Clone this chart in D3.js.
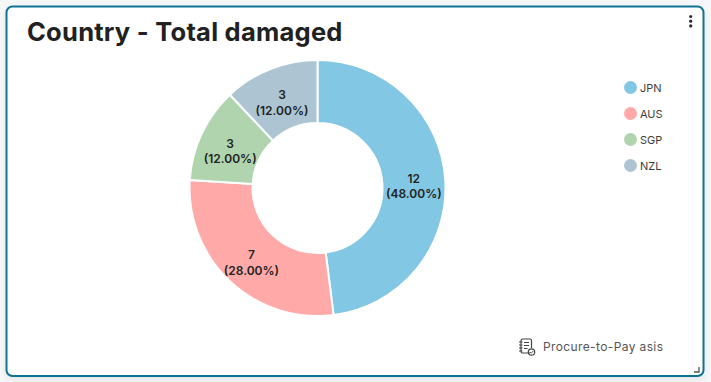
<!DOCTYPE html>
<html>
<head>
<meta charset="utf-8">
<script src="https://cdn.jsdelivr.net/npm/d3@7"></script>
<style>
  html, body { margin: 0; padding: 0; background: #f5f7f8; }
  svg { display: block; font-family: Inter, "Open Sans", sans-serif; }
</style>
</head>
<body>
<div id="container"></div>
<script>
// data we work with
const countries = ["JPN", "AUS", "SGP", "NZL"];
const damaged = [12, 7, 3, 3];
const percents = ["48.00%", "28.00%", "12.00%", "12.00%"];
const colors = ["#82c7e3", "#ffaaa8", "#b0d5ae", "#adc5d2"];

const w = 711;
const h = 382;
const cx = 317.5;
const cy = 188;
const outerR = 128;
const innerR = 65;

let viz = d3.select("#container")
  .append("svg")
    .attr("width", w)
    .attr("height", h)
;

// soft shadow under the card
let defs = viz.append("defs");
let shadow = defs.append("filter").attr("id", "cardShadow")
  .attr("x", "-5%").attr("y", "-5%").attr("width", "110%").attr("height", "115%");
shadow.append("feDropShadow")
  .attr("dx", 0).attr("dy", 3).attr("stdDeviation", 3)
  .attr("flood-color", "#000").attr("flood-opacity", 0.07);

// card
viz.append("rect")
  .attr("x", 6.5).attr("y", 6.5)
  .attr("width", 697).attr("height", 369.5)
  .attr("rx", 6)
  .attr("fill", "#ffffff")
  .attr("stroke", "#0f7390")
  .attr("stroke-width", 2)
  .attr("filter", "url(#cardShadow)")
;

// title
viz.append("text")
  .attr("x", 27).attr("y", 41)
  .attr("font-size", 25.5)
  .attr("font-weight", 700)
  .attr("letter-spacing", 0.25)
  .attr("fill", "#212121")
  .text("Country - Total damaged")
;

// three dots menu
viz.selectAll(".dot").data([0, 1, 2]).enter().append("circle")
  .attr("cx", 690.7)
  .attr("cy", d => 16.5 + d * 4.7)
  .attr("r", 1.6)
  .attr("fill", "#2b2b2b")
;

// donut
let pieMaker = d3.pie().sort(null).value(d => d);
let arcMaker = d3.arc().innerRadius(innerR).outerRadius(outerR);
let slices = pieMaker(damaged);

let donut = viz.append("g").attr("transform", `translate(${cx},${cy})`);

donut.selectAll(".slice").data(slices).enter().append("path")
  .attr("d", arcMaker)
  .attr("fill", (d, i) => colors[i])
  .attr("stroke", "#ffffff")
  .attr("stroke-width", 2)
;

let labels = donut.selectAll(".label").data(slices).enter().append("text")
  .attr("text-anchor", "middle")
  .attr("font-size", 12)
  .attr("font-weight", 600)
  .attr("fill", "#222222")
  .attr("transform", d => `translate(${arcMaker.centroid(d)})`)
;
labels.append("tspan").attr("x", 0).attr("y", 1).text(d => d.value);
labels.append("tspan").attr("x", 0).attr("y", 16.5).text((d, i) => "(" + percents[i] + ")");

// legend
let legendY = d3.scalePoint().domain(countries).range([87.5, 165.5]);
let legend = viz.selectAll(".legend").data(countries).enter().append("g")
  .attr("transform", d => `translate(630.5,${legendY(d)})`)
;
legend.append("circle")
  .attr("r", 6.5)
  .attr("fill", (d, i) => colors[i])
;
legend.append("text")
  .attr("x", 9.5).attr("y", 4)
  .attr("font-size", 11)
  .attr("fill", "#3d3d3d")
  .text(d => d)
;

// footer
let icon = viz.append("g")
  .attr("transform", "translate(519,339)")
  .attr("fill", "none")
  .attr("stroke", "#444444")
  .attr("stroke-width", 1.2)
;
icon.append("path").attr("d", "M11 14H3.5a1.5 1.5 0 0 1-1.5-1.5V1.5A1.5 1.5 0 0 1 3.5 0H11a1.5 1.5 0 0 1 1.5 1.5V9");
icon.append("path").attr("d", "M0 3H3.5M0 6H3.5M0 9H3.5M0 12H3.5M5 3.5H10M5 6.5H10M5 9.5H8.5");
icon.append("circle").attr("cx", 12.5).attr("cy", 13).attr("r", 3.2);
icon.append("path").attr("d", "M11 13l1.2 1.2 2-2.2").attr("stroke-width", 0.9);

viz.append("text")
  .attr("x", 543).attr("y", 351)
  .attr("font-size", 12)
  .attr("letter-spacing", 0.38)
  .attr("fill", "#555555")
  .text("Procure-to-Pay asis")
;

// resize handle
viz.append("path")
  .attr("d", "M699 367V372H694")
  .attr("fill", "none")
  .attr("stroke", "#555555")
  .attr("stroke-width", 1.3)
;
</script>
</body>
</html>
